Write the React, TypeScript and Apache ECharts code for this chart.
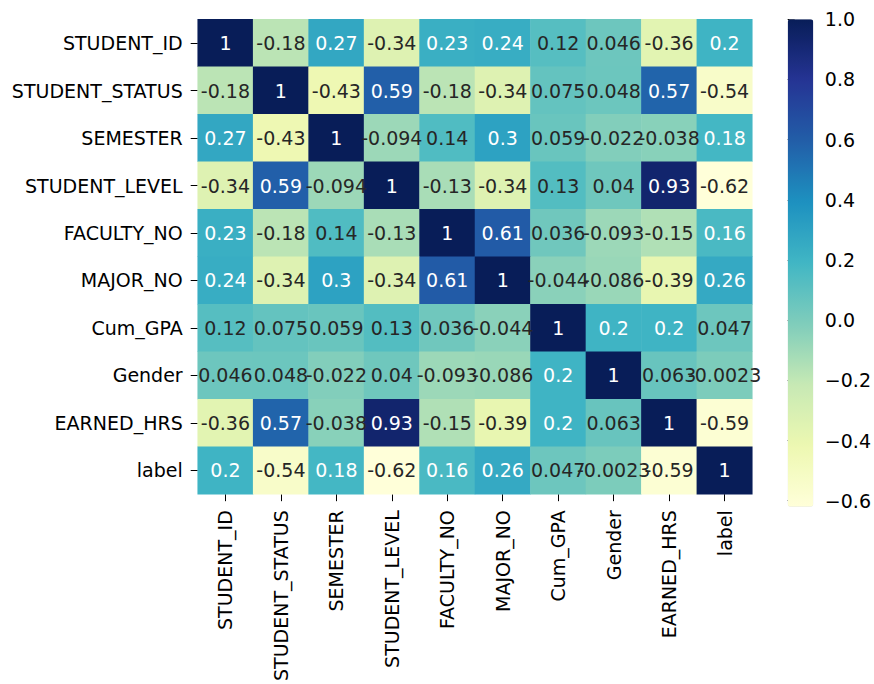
import React, { useEffect, useRef } from "react";
import * as echarts from "echarts";

const labels = [
  "STUDENT_ID",
  "STUDENT_STATUS",
  "SEMESTER",
  "STUDENT_LEVEL",
  "FACULTY_NO",
  "MAJOR_NO",
  "Cum_GPA",
  "Gender",
  "EARNED_HRS",
  "label",
];

const rowStudentId = [1, -0.18, 0.27, -0.34, 0.23, 0.24, 0.12, 0.046, -0.36, 0.2];
const rowStudentStatus = [-0.18, 1, -0.43, 0.59, -0.18, -0.34, 0.075, 0.048, 0.57, -0.54];
const rowSemester = [0.27, -0.43, 1, -0.094, 0.14, 0.3, 0.059, -0.022, -0.038, 0.18];
const rowStudentLevel = [-0.34, 0.59, -0.094, 1, -0.13, -0.34, 0.13, 0.04, 0.93, -0.62];
const rowFacultyNo = [0.23, -0.18, 0.14, -0.13, 1, 0.61, 0.036, -0.093, -0.15, 0.16];
const rowMajorNo = [0.24, -0.34, 0.3, -0.34, 0.61, 1, -0.044, -0.086, -0.39, 0.26];
const rowCumGpa = [0.12, 0.075, 0.059, 0.13, 0.036, -0.044, 1, 0.2, 0.2, 0.047];
const rowGender = [0.046, 0.048, -0.022, 0.04, -0.093, -0.086, 0.2, 1, 0.063, -0.0023];
const rowEarnedHrs = [-0.36, 0.57, -0.038, 0.93, -0.15, -0.39, 0.2, 0.063, 1, -0.59];
const rowLabel = [0.2, -0.54, 0.18, -0.62, 0.16, 0.26, 0.047, -0.0023, -0.59, 1];

const matrix = [
  rowStudentId,
  rowStudentStatus,
  rowSemester,
  rowStudentLevel,
  rowFacultyNo,
  rowMajorNo,
  rowCumGpa,
  rowGender,
  rowEarnedHrs,
  rowLabel,
];

const colorbarTicks = [-0.6, -0.4, -0.2, 0.0, 0.2, 0.4, 0.6, 0.8, 1.0];

const YLGNBU = [
  "#ffffd9",
  "#edf8b1",
  "#c7e9b4",
  "#7fcdbb",
  "#41b6c4",
  "#1d91c0",
  "#225ea8",
  "#253494",
  "#081d58",
];

const FONT = "DejaVu Sans";
const FS = 19;

function fmt2g(v: number): string {
  return String(Number(v.toPrecision(2)));
}

export default function App() {
  const ref = useRef<HTMLDivElement>(null);

  useEffect(() => {
    if (!ref.current) return;
    const chart = echarts.init(ref.current, null, { renderer: "svg" });

    const data: any[] = [];
    matrix.forEach((row, r) => {
      row.forEach((v, c) => {
        data.push({
          value: [c, r, v],
          label: { color: v >= 0.15 ? "#ffffff" : "#262626" },
        });
      });
    });

    const left = 197.7;
    const top = 19.3;
    const w = 554.6;
    const h = 486.6;
    const cbMin = -0.62;
    const cbMax = 1.0;
    const cbH = 487.4;
    const pxPerUnit = cbH / (cbMax - cbMin);
    const cbAxisMin = colorbarTicks[0];
    const cbAxisMax = colorbarTicks[colorbarTicks.length - 1];
    const cbAxisHeight = (cbAxisMax - cbAxisMin) * pxPerUnit;
    const cbLeft = 787.7;
    const cbWidth = 25.6;

    const option: any = {
      animation: false,
      textStyle: { fontFamily: FONT },
      grid: [
        { left, top, width: w, height: h },
        { left: cbLeft, top: top + (cbMax - cbAxisMax) * pxPerUnit, width: cbWidth, height: cbAxisHeight },
      ],
      xAxis: [
        {
          type: "category",
          data: labels,
          gridIndex: 0,
          position: "bottom",
          axisLine: { show: false },
          axisTick: { show: true, alignWithLabel: true, length: 7, lineStyle: { color: "#000" } },
          axisLabel: { rotate: 90, fontSize: FS, color: "#000", fontFamily: FONT, margin: 16, interval: 0 },
          splitLine: { show: false },
        },
        {
          type: "value",
          gridIndex: 1,
          show: false,
        },
      ],
      yAxis: [
        {
          type: "category",
          data: labels,
          gridIndex: 0,
          inverse: true,
          axisLine: { show: false },
          axisTick: { show: true, alignWithLabel: true, length: 7, lineStyle: { color: "#000" } },
          axisLabel: { fontSize: FS, color: "#000", fontFamily: FONT, margin: 15, interval: 0 },
          splitLine: { show: false },
        },
        {
          type: "value",
          gridIndex: 1,
          position: "right",
          min: cbAxisMin,
          max: cbAxisMax,
          interval: 0.2,
          axisLine: { show: false },
          axisTick: { show: true, length: 7, lineStyle: { color: "#000" } },
          axisLabel: {
            fontSize: FS,
            color: "#000",
            fontFamily: FONT,
            margin: 14,
            formatter: (v: number) => v.toFixed(1).replace("-", "\u2212"),
          },
          splitLine: { show: false },
        },
      ],
      visualMap: {
        type: "continuous",
        min: cbMin,
        max: cbMax,
        calculable: false,
        hoverLink: false,
        orient: "vertical",
        left: cbLeft,
        top,
        padding: 0,
        itemWidth: cbWidth,
        itemHeight: cbH,
        seriesIndex: 0,
        inRange: { color: YLGNBU },
      },
      series: [
        {
          type: "heatmap",
          xAxisIndex: 0,
          yAxisIndex: 0,
          data,
          label: {
            show: true,
            fontSize: FS,
            fontFamily: FONT,
            formatter: (p: any) => fmt2g(p.value[2]),
          },
          itemStyle: { borderWidth: 0 },
          emphasis: { disabled: true },
        },
      ],
    };

    chart.setOption(option);
    return () => chart.dispose();
  }, []);

  return (
    <div
      ref={ref}
      style={{ position: "fixed", left: 0, top: 0, width: 874, height: 684, background: "#fff" }}
    />
  );
}
